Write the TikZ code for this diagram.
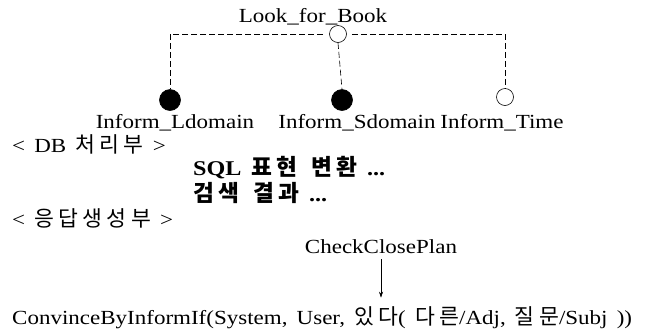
\documentclass[tikz,border=0pt]{standalone}
\usepackage{fontspec}
\setmainfont{Liberation Serif}[FakeStretch=1.15,WordSpace=1.6]
\newfontfamily\kr{Noto Sans CJK KR}[Scale=1.08,LetterSpace=20,WordSpace=1.4]
\usetikzlibrary{arrows.meta}

\begin{document}
\begin{tikzpicture}[x=1pt,y=-1pt,
    every node/.style={font=\fontsize{20}{24}\selectfont,inner sep=0pt}]

    \useasboundingbox (0,0) rectangle (659,333);

    \begin{scope}[every node/.style={circle,draw,semithick,minimum size=17pt,inner sep=0pt}]
        \node (top) at (338,34) {}; % Plan node
        \node[fill=black,minimum size=21pt] (ld) at (170,100) {};
        \node[fill=black,minimum size=21pt] (sd) at (342,100) {};
        \node (tm) at (505,97) {}; % open goal %
    \end{scope}

    \node (look) at (313,17) {Look\_for\_Book};
    \node (ldl) at (175,123) {Inform\_Ldomain};
    \node (sdl) at (357,123) {Inform\_Sdomain};
    \node (tml) at (502,123) {Inform\_Time};

    \begin{scope}[every path/.style={draw,semithick,dash pattern=on 6pt off 3pt}]
        \path[shorten <=6pt] (top.west) -| (ld.north);
        \path[thick,shorten <=5pt] (top.east) -| (tm.north);
        \path (top.south) -- (sd.north);
    \end{scope}

    % text rows %
    \node[anchor=west] (db) at (12,144) {< DB {\kr 처리부} >};
    \node[anchor=west,font=\fontsize{21}{25}\selectfont\bfseries] (sql) at (193,168) {SQL {\kr 표현 변환} ...};
    \node[anchor=west,font=\fontsize{21}{25}\selectfont\bfseries] (res) at (193,193) {{\kr 검색 결과} ...};
    \node[anchor=west] (gen) at (12,218) {< {\kr 응답생성부} >};

    \node (chk) at (381,247) {CheckClosePlan};
    \node[anchor=west] (conv) at (12,318) {ConvinceByInformIf(System, User, {\kr 있다}( {\kr 다른}/Adj, {\kr 질문}/Subj ))};

    \path[draw,semithick,-{Stealth[length=6pt,width=4pt]},shorten <=5pt,shorten >=9pt] (chk) -- (chk |- conv.north);

\end{tikzpicture}
\end{document}
